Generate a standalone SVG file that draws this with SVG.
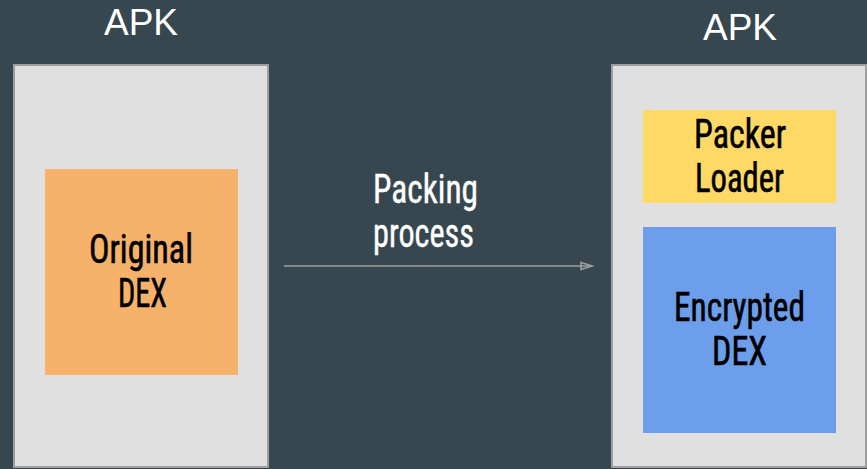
<svg xmlns="http://www.w3.org/2000/svg" width="867" height="469" viewBox="0 0 867 469">
<style>
.bg{fill:#37474f}
.apk{fill:#e0e0e0;stroke:#9e9e9e;stroke-width:2}
.title{font-family:"Liberation Sans",Arial,sans-serif;font-size:37px;fill:#ffffff}
.lbl{font-family:"Liberation Sans Narrow","Roboto Condensed","DejaVu Sans Condensed","Liberation Sans",sans-serif;font-size:41px;fill:#000000;stroke:#000000;stroke-width:0.6}
.wlbl{font-family:"Liberation Sans Narrow","Roboto Condensed","DejaVu Sans Condensed","Liberation Sans",sans-serif;font-size:41px;fill:#ffffff;stroke:#ffffff;stroke-width:0.4}
.conn{stroke:#9e9e9e;stroke-width:1.6;fill:none}
</style>
<defs>
<marker id="arr" markerWidth="14" markerHeight="10" refX="12" refY="5" orient="auto" markerUnits="userSpaceOnUse">
<path d="M1,1.5 L12,5 L1,8.5 Z" fill="none" stroke="#9e9e9e" stroke-width="1.6"/>
</marker>
</defs>
<rect class="bg" x="0" y="0" width="867" height="469"/>
<g id="apk-left">
<rect class="apk" x="14" y="65" width="254" height="402"/>
<text class="title" x="141" y="35" text-anchor="middle">APK</text>
</g>
<g id="original-dex">
<rect x="45" y="169" width="193" height="206" fill="#f6b26b"/>
<text class="lbl" x="89" y="263" textLength="104" lengthAdjust="spacingAndGlyphs">Original</text>
<text class="lbl" x="118" y="307" textLength="49" lengthAdjust="spacingAndGlyphs">DEX</text>
</g>
<g id="apk-right">
<rect class="apk" x="612" y="65" width="254" height="402"/>
<text class="title" x="740" y="40" text-anchor="middle">APK</text>
</g>
<g id="packer-loader">
<rect x="643" y="110" width="193" height="93" fill="#ffd966"/>
<text class="lbl" x="694" y="148" textLength="92" lengthAdjust="spacingAndGlyphs">Packer</text>
<text class="lbl" x="695" y="192" textLength="89" lengthAdjust="spacingAndGlyphs">Loader</text>
</g>
<g id="encrypted-dex">
<rect x="643" y="227" width="193" height="206" fill="#6d9eeb"/>
<text class="lbl" x="674" y="321" textLength="131" lengthAdjust="spacingAndGlyphs">Encrypted</text>
<text class="lbl" x="712" y="365" textLength="55" lengthAdjust="spacingAndGlyphs">DEX</text>
</g>
<g id="connectors">
<line class="conn" x1="284" y1="266" x2="592" y2="266" marker-end="url(#arr)"/>
<text class="wlbl" x="373" y="203" textLength="105" lengthAdjust="spacingAndGlyphs">Packing</text>
<text class="wlbl" x="373" y="247" textLength="101" lengthAdjust="spacingAndGlyphs">process</text>
</g>
</svg>
